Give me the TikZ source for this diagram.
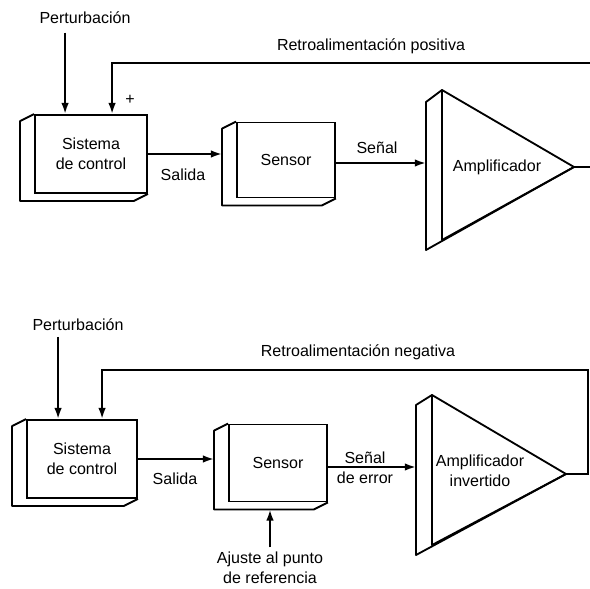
\documentclass[tikz,border=0pt]{standalone}
\usepackage{fontspec}
\setmainfont{Liberation Sans}
\usetikzlibrary{arrows.meta,calc}
\tikzset{blk/.style={draw,line width=1.3pt,align=center,font=\fontsize{11.4}{14.5}\selectfont,inner sep=0pt},
  lbl/.style={align=center,font=\fontsize{11.4}{14.5}\selectfont,inner sep=1pt},
  arr/.style={-{Latex[length=2.8mm,width=1.9mm]},line width=1.5pt,line join=miter},
  edge3d/.style={line width=1.3pt,line join=round}}

\begin{document}
\begin{tikzpicture}[x=.025cm,y=-.025cm]
\useasboundingbox (0,0) rectangle (590,589); \clip (0,0) rectangle (590,589);
% retroalimentacion positiva
\node[blk,minimum width=2.8cm,minimum height=1.95cm] (sis1) at (91,154) {Sistema\\de control};
\node[blk,minimum width=2.45cm,minimum height=1.875cm] (sen1) at (286,160) {Sensor};
\coordinate (a1t) at (442,90); \coordinate (a1b) at (442,240); \coordinate (a1o) at (574,167);
\draw[edge3d] (a1t) -- (a1o) -- (a1b) -- cycle; \draw[edge3d] (a1t) -- ++(-16,12) -- ($(a1b)+(-16,10)$) -- (a1o);
\node[lbl] (amp1) at (497,167) {Amplificador};
\node[lbl] (pert1) at (85,18) {Perturbación};
\node[lbl] (rpos) at (371,46) {Retroalimentación positiva};
\node[lbl] (mas) at (130,100) {+};
\node[lbl] (sal1) at (183,175) {Salida};
\node[lbl] (sgn1) at (377,148) {Señal};
% retroalimentacion negativa
\node[blk,minimum width=2.75cm,minimum height=1.95cm] (sis2) at (82,459) {Sistema\\de control};
\node[blk,minimum width=2.45cm,minimum height=1.925cm] (sen2) at (278,463) {Sensor};
\coordinate (a2t) at (432,395); \coordinate (a2b) at (432,545); \coordinate (a2o) at (566,474);
\draw[edge3d] (a2t) -- (a2o) -- (a2b) -- cycle; \draw[edge3d] (a2t) -- ++(-16,10) -- ($(a2b)+(-16,10)$) -- (a2o);
\node[lbl] (amp2) at (480,471) {Amplificador\\invertido};
\node[lbl] (pert2) at (78,325) {Perturbación};
\node[lbl] (rneg) at (358,352) {Retroalimentación negativa};
\node[lbl] (sal2) at (175,479) {Salida};
\node[lbl] (sgn2) at (365,468) {Señal\\de error};
\node[lbl] (ajuste) at (270,568) {Ajuste al punto\\de referencia};
\foreach \b in {sis1,sen1,sis2,sen2}
  \draw[edge3d] (\b.north west) -- ++(-14,7) -- ($(\b.south west)+(-14,7)$) -- ($(\b.south east)+(-14,7)$) -- (\b.south east);
\coordinate (p1) at ($(sis1.north west)+(31,0)$); \coordinate (f1) at ($(sis1.north west)+(78,0)$);
\coordinate (p2) at ($(sis2.north west)+(32,0)$); \coordinate (f2) at ($(sis2.north west)+(76,0)$);
\coordinate (sen1w) at ($(sen1.west)+(-14,0)$); \coordinate (sen2w) at ($(sen2.west)+(-14,0)$);
\coordinate (sen2b) at ($(sen2.south)+(0,7)$);
\coordinate (a1in) at (426,163); \coordinate (a2in) at (416,467);
\coordinate (r1) at (600,63); \coordinate (r2) at (588,370);
\draw[arr,shorten <=5pt] (pert1.south -| p1) -- (p1); \draw[arr,shorten <=3pt] (pert2.south -| p2) -- (p2);
\draw[arr] (a1o) -- (a1o -| r1) -- (r1) -- (r1 -| f1) -- (f1);
\draw[arr] (a2o) -- (a2o -| r2) -- (r2) -- (r2 -| f2) -- (f2);
\draw[arr] (sis1.east) -- (sis1.east -| sen1w); \draw[arr] (sis2.east) -- (sis2.east -| sen2w);
\draw[arr] (sen1.east |- a1in) -- (a1in); \draw[arr] (sen2.east |- a2in) -- (a2in);
\draw[arr,shorten <=2pt] (ajuste.north) -- (ajuste.north |- sen2b);
\end{tikzpicture}
\end{document}
